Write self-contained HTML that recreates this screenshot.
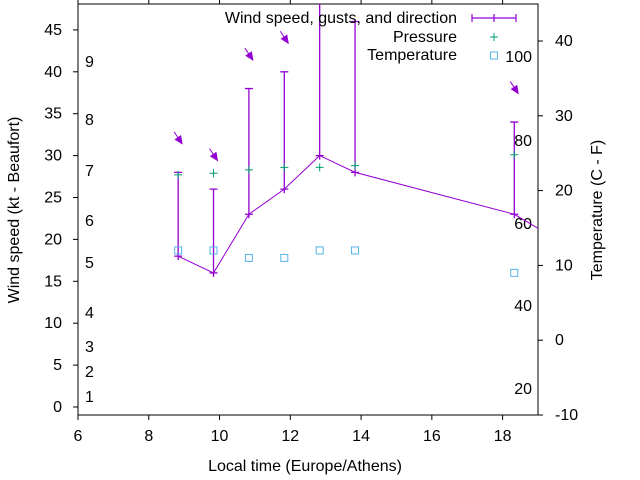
<!DOCTYPE html>
<html><head><meta charset="utf-8"><style>
html,body{margin:0;padding:0;background:#fff}
svg{display:block;font-family:"Liberation Sans",sans-serif}
</style></head><body>
<svg id="chart" width="640" height="480" viewBox="0 0 640 480" xmlns="http://www.w3.org/2000/svg"></svg>
<script>
const times = [8.83, 9.83, 10.83, 11.83, 12.83, 13.83, 18.33, 19.33];
const windSpeed = [18, 16, 23, 26, 30, 28, 23, 20.5];
const gusts = [28, 26, 38, 40, 50, 46, 34, 30];
const pressure = [27.7, 27.9, 28.3, 28.6, 28.6, 28.8, 30.1];
const temperature = [12, 12, 11, 11, 12, 12, 9];
const xTicks = [6, 8, 10, 12, 14, 16, 18];
const yTicks = [0, 5, 10, 15, 20, 25, 30, 35, 40, 45];
const y2Ticks = [-10, 0, 10, 20, 30, 40];
const beaufort = [[1, 397], [2, 372], [3, 347], [4, 313], [5, 263], [6, 221], [7, 171], [8, 120], [9, 62]];
const fahrenheit = [[20, 389], [40, 306], [60, 224], [80, 141], [100, 57]];

const L = 78, R = 538, T = 4, B = 415;
const X = t => L + (t - 6) / 13 * (R - L);
const Y = v => 407 - v * 8.38;
const Y2 = c => B - (c + 10) * 7.48;
const NS = "http://www.w3.org/2000/svg";
const svg = document.getElementById('chart');
function el(tag, attrs, parent) {
  const e = document.createElementNS(NS, tag);
  for (const k in attrs) e.setAttribute(k, attrs[k]);
  (parent || svg).appendChild(e);
  return e;
}
function txt(s, x, y, anchor, parent) {
  const t = el('text', {x: x, y: y, 'font-size': 16, fill: '#000', 'text-anchor': anchor || 'middle'}, parent);
  t.textContent = s;
  return t;
}
const defs = el('defs', {});
const cp = el('clipPath', {id: 'clip'}, defs);
el('rect', {x: L, y: T, width: R - L, height: B - T}, cp);
const mk = el('marker', {id: 'ah', markerWidth: 9, markerHeight: 8, refX: 8, refY: 4, orient: 'auto', markerUnits: 'userSpaceOnUse'}, defs);
el('path', {d: 'M0,0 L9,4 L0,8 Z', fill: '#9400d3'}, mk);

const frame = el('rect', {x: L, y: T, width: R - L, height: B - T, fill: 'none', stroke: '#000', 'stroke-width': 1});



xTicks.forEach(t => {
  const x = X(t);
  el('line', {x1: x, y1: B, x2: x, y2: B + 5, stroke: '#000'});
  el('line', {x1: x, y1: T, x2: x, y2: T - 5, stroke: '#000'});
  const lb = txt(String(t), x, 441);
  
  
});
yTicks.forEach(v => {
  const y = Y(v);
  el('line', {x1: L, y1: y, x2: L - 5, y2: y, stroke: '#000'});
  const lb = txt(String(v), 62, y + 5, 'end');
  
  
});
y2Ticks.forEach(c => {
  const y = Y2(c);
  el('line', {x1: R, y1: y, x2: R + 5, y2: y, stroke: '#000'});
  const lb = txt(String(c), 555, y + 5, 'start');
  
  
});
beaufort.forEach(b => {
  const lb = txt(String(b[0]), 85, b[1] + 5, 'start');
  
  
});
fahrenheit.forEach(f => {
  const lb = txt(String(f[0]), 532, f[1] + 5, 'end');
  
  
});

const xt = txt('Local time (Europe/Athens)', 305, 471);


const yt = txt('Wind speed (kt - Beaufort)', 0, 0);
yt.setAttribute('transform', 'translate(19,210) rotate(-90)');


const y2t = txt('Temperature (C - F)', 0, 0);
y2t.setAttribute('transform', 'translate(602,210) rotate(-90)');



const g = el('g', {'clip-path': 'url(#clip)'});
const purple = '#9400d3';
let d = '';
windSpeed.forEach((v, i) => { d += (i ? 'L' : 'M') + X(times[i]) + ',' + Y(v); });
const wl = el('path', {d: d, fill: 'none', stroke: purple, 'stroke-width': 1}, g);


windSpeed.forEach((v, i) => {
  const x = X(times[i]), y = Y(v), yg = Y(gusts[i]);
  const bar = el('path', {d: `M${x},${y}V${yg}M${x-4},${yg}H${x+4}M${x-4},${y}H${x+4}M${x},${y-4}V${y+4}`, stroke: purple, fill: 'none', 'stroke-width': 1.3}, g);
  
  
  const ay = Y(gusts[i] + 4);
  const ar = el('line', {x1: x - 4, y1: ay - 7, x2: x + 4, y2: ay + 5, stroke: purple, 'stroke-width': 1, 'marker-end': 'url(#ah)'}, g);
  
  
});
pressure.forEach((p, i) => {
  const x = X(times[i]), y = Y(p);
  const m = el('path', {d: `M${x-4},${y}H${x+4}M${x},${y-4}V${y+4}`, stroke: '#009e73', 'stroke-width': 1}, g);
  
  
});
temperature.forEach((c, i) => {
  const x = X(times[i]), y = Y2(c);
  const m = el('rect', {x: x - 3.5, y: y - 3.5, width: 7, height: 7, fill: 'none', stroke: '#56b4e9', 'stroke-width': 1}, g);
  
  
});

const lg = el('g', {});


const l1 = txt('Wind speed, gusts, and direction', 457, 23, 'end', lg);


el('path', {d: 'M472,18H516M472,14V22M516,14V22M494,14V22', stroke: purple, 'stroke-width': 1.2, fill: 'none'}, lg);
const l2 = txt('Pressure', 457, 42, 'end', lg);


el('path', {d: 'M490,37H498M494,33V41', stroke: '#009e73', 'stroke-width': 1}, lg);
const l3 = txt('Temperature', 457, 60, 'end', lg);


el('rect', {x: 490.5, y: 52, width: 7, height: 7, fill: 'none', stroke: '#56b4e9'}, lg);
</script>
</body></html>
